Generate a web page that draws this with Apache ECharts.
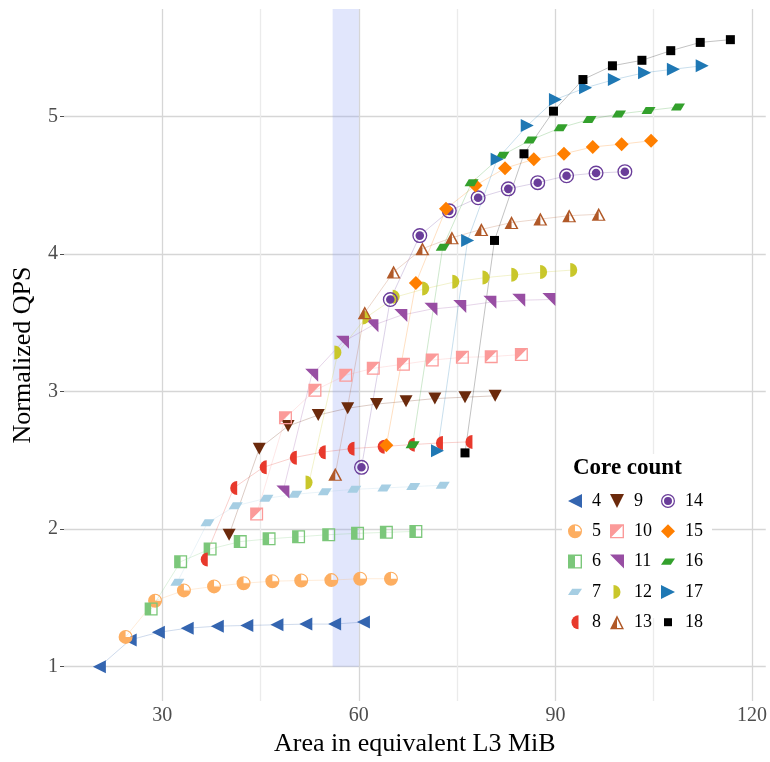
<!DOCTYPE html>
<html>
<head>
<meta charset="utf-8">
<script src="https://cdn.jsdelivr.net/npm/echarts@6/dist/echarts.min.js"></script>
<style>
  html, body { margin: 0; padding: 0; background: #fff; }
  #chart { width: 770px; height: 762px; }
</style>
</head>
<body>
<div id="chart"></div>
<script>
// core counts (legend entries)
const cores = ["4", "5", "6", "7", "8", "9", "10", "11", "12", "13", "14", "15", "16", "17", "18"];

// area (equivalent L3 MiB) and normalized QPS per core count
const area4 = [20.4, 25.1, 29.4, 33.8, 38.4, 42.9, 47.5, 51.9, 56.3, 60.7];
const qps4 = [1.0, 1.195, 1.25, 1.28, 1.295, 1.3, 1.305, 1.31, 1.31, 1.325];
const area5 = [24.4, 28.9, 33.3, 37.9, 42.4, 46.8, 51.2, 55.8, 60.2, 64.9];
const qps5 = [1.217, 1.48, 1.555, 1.584, 1.607, 1.622, 1.627, 1.63, 1.64, 1.64];
const area6 = [28.3, 32.8, 37.3, 41.9, 46.3, 50.8, 55.4, 59.8, 64.2, 68.7];
const qps6 = [1.42, 1.764, 1.856, 1.91, 1.93, 1.945, 1.96, 1.97, 1.977, 1.984];
const area7 = [32.3, 36.9, 41.2, 45.9, 50.3, 54.8, 59.3, 63.9, 68.3, 72.8];
const qps7 = [1.615, 2.047, 2.17, 2.225, 2.254, 2.273, 2.29, 2.3, 2.31, 2.32];
const area8 = [36.4, 40.9, 45.4, 50.0, 54.4, 58.8, 63.4, 68.0, 72.3, 76.8];
const qps8 = [1.78, 2.3, 2.45, 2.52, 2.56, 2.586, 2.6, 2.615, 2.627, 2.635];
const area9 = [40.2, 44.8, 49.2, 53.8, 58.3, 62.7, 67.2, 71.6, 76.2, 80.8];
const qps9 = [1.96, 2.586, 2.75, 2.83, 2.88, 2.91, 2.93, 2.95, 2.96, 2.97];
const area10 = [44.4, 48.8, 53.3, 58.0, 62.2, 66.8, 71.2, 75.8, 80.2, 84.8];
const qps10 = [2.11, 2.81, 3.01, 3.12, 3.17, 3.2, 3.23, 3.25, 3.255, 3.27];
const area11 = [48.4, 52.8, 57.5, 62.0, 66.4, 71.0, 75.4, 80.0, 84.4, 89.0];
const qps11 = [2.27, 3.12, 3.36, 3.48, 3.555, 3.6, 3.62, 3.65, 3.665, 3.67];
const area12 = [52.4, 56.8, 61.1, 65.7, 70.2, 74.8, 79.4, 83.8, 88.2, 92.8];
const qps12 = [2.34, 3.285, 3.54, 3.69, 3.75, 3.8, 3.83, 3.85, 3.87, 3.885];
const area13 = [56.4, 60.9, 65.3, 69.7, 74.2, 78.7, 83.3, 87.7, 92.1, 96.6];
const qps13 = [2.4, 3.575, 3.87, 4.04, 4.12, 4.18, 4.23, 4.255, 4.28, 4.29];
const area14 = [60.4, 64.8, 69.3, 73.8, 78.2, 82.8, 87.3, 91.7, 96.2, 100.6];
const qps14 = [2.45, 3.67, 4.135, 4.315, 4.41, 4.475, 4.52, 4.57, 4.59, 4.6];
const area15 = [64.2, 68.7, 73.3, 77.8, 82.3, 86.7, 91.3, 95.7, 100.1, 104.6];
const qps15 = [2.61, 3.79, 4.33, 4.5, 4.625, 4.69, 4.73, 4.78, 4.8, 4.825];
const area16 = [68.2, 72.8, 77.2, 81.9, 86.2, 90.8, 95.2, 99.7, 104.2, 108.7];
const qps16 = [2.615, 4.05, 4.52, 4.72, 4.83, 4.92, 4.98, 5.02, 5.045, 5.07];
const area17 = [72.0, 76.6, 81.1, 85.7, 90.0, 94.6, 99.0, 103.6, 108.0, 112.4];
const qps17 = [2.57, 4.1, 4.69, 4.935, 5.125, 5.21, 5.27, 5.32, 5.345, 5.37];
const area18 = [76.2, 80.7, 85.2, 89.7, 94.2, 98.7, 103.2, 107.6, 112.1, 116.7];
const qps18 = [2.555, 4.1, 4.73, 5.04, 5.27, 5.37, 5.41, 5.48, 5.54, 5.56];

const areas = [area4, area5, area6, area7, area8, area9, area10, area11, area12, area13, area14, area15, area16, area17, area18];
const qpss = [qps4, qps5, qps6, qps7, qps8, qps9, qps10, qps11, qps12, qps13, qps14, qps15, qps16, qps17, qps18];

// y tick labels
const yTicks = [1, 2, 3, 4, 5];

// highlighted band on the x axis
const bandStart = 56;
const bandEnd = 60;

const colors = [
  "#3465b0", "#fdae61", "#7bc77a", "#a6cee3", "#e8392c",
  "#6b2a0c", "#fb9a99", "#984ea3", "#c9c72b", "#b15928",
  "#6a3d9a", "#ff7f00", "#33a02c", "#1f78b4", "#000000",
];

const ring = "M10,0A10,10 0 1,1 10,20A10,10 0 1,1 10,0Z";
const sqFrame = "M0,0H20V20H0Z M2,2V18H18V2Z";
const symbols = [
  "path://M0,10L20,0L20,20Z",
  "path://" + ring + " M10,1.6A8.4,8.4 0 1,0 10,18.4A8.4,8.4 0 1,0 10,1.6Z M10,10L10,1.6A8.4,8.4 0 1,0 18.4,10Z",
  "path://" + sqFrame + " M2,2H10V18H2Z",
  "path://M6,0H20L14,9H0Z",
  "path://M10,0A10,10 0 0,0 10,20Z",
  "path://M0,0H20L10,20Z",
  "path://" + sqFrame + " M2,2H18L2,18Z",
  "path://M0,0H20V20Z",
  "path://M10,0A10,10 0 0,1 10,20Z",
  "path://M10,0L20,20H0Z M10,4.6L3.3,18.4H16.7Z M10,4.6V18.4H3.3Z",
  "path://" + ring + " M10,1.8A8.2,8.2 0 1,0 10,18.2A8.2,8.2 0 1,0 10,1.8Z M10,4.3A5.7,5.7 0 1,1 10,15.7A5.7,5.7 0 1,1 10,4.3Z",
  "diamond",
  "path://M6,0H20L14,9H0Z",
  "path://M0,0L20,10L0,20Z",
  "rect",
];
const sizes = [
  [13, 13], 14, 13, [14, 7], [7, 14],
  [13, 12], 13, [13, 13], [7, 14], [14, 13],
  15, 14, [14, 7], [13, 13], 9,
];
const legendIcons = symbols.slice();
legendIcons[14] = "path://M0,0L0,0M14,14L14,14M3,3H11V11H3Z";

const font = "Liberation Serif";

const chart = echarts.init(document.getElementById("chart"));

const pairs = (i) => areas[i].map((a, k) => [a, qpss[i][k]]);

const lineSeries = cores.map((c, i) => ({
  type: "line",
  name: "line" + c,
  data: pairs(i),
  symbol: "none",
  silent: true,
  z: 1,
  lineStyle: { color: colors[i], width: 1, opacity: 0.24 },
}));
lineSeries[0].markArea = {
  silent: true,
  itemStyle: { color: "rgba(135,155,243,0.25)" },
  data: [[{ xAxis: bandStart, yAxis: 1 }, { xAxis: bandEnd, yAxis: 5.783 }]],
};

const pointSeries = cores.map((c, i) => ({
  type: "scatter",
  name: c,
  data: pairs(i),
  symbol: symbols[i],
  symbolSize: sizes[i],
  z: 2,
  itemStyle: { color: colors[i], opacity: 1 },
}));

const legendCols = [568, 610, 661];
const legends = legendCols.map((left, col) => ({
  orient: "vertical",
  left: left,
  top: 492,
  padding: 0,
  itemWidth: 14,
  itemHeight: 14,
  itemGap: 12.3,
  selectedMode: false,
  z: 4,
  textStyle: { fontFamily: font, fontSize: 18, color: "#000", padding: [0, 0, 0, 5] },
  data: cores.slice(col * 5, col * 5 + 5).map((c, k) => ({
    name: c,
    icon: legendIcons[col * 5 + k],
    itemStyle: { color: colors[col * 5 + k], opacity: 1 },
  })),
}));

const option = {
  animation: false,
  backgroundColor: "#fff",
  grid: { left: 64, right: 4, top: 9, bottom: 58 },
  xAxis: {
    type: "value",
    min: 15,
    max: 122.1,
    interval: 15,
    name: "Area in equivalent L3 MiB",
    nameLocation: "middle",
    nameGap: 28,
    nameTextStyle: { fontFamily: font, fontSize: 26, color: "#000" },
    axisLine: { show: false },
    axisTick: { show: false },
    axisLabel: {
      margin: 5,
      fontFamily: font,
      fontSize: 20,
      color: "#4d4d4d",
      showMaxLabel: false,
      formatter: (v) => (v % 30 === 0 ? String(v) : ""),
    },
    splitLine: {
      show: true,
      showMaxLine: false,
      lineStyle: {
        width: 1.3,
        color: ["rgba(0,0,0,0)", "#d6d6d6", "#ebebeb", "#d6d6d6", "#ebebeb", "#d6d6d6", "#ebebeb", "#d6d6d6"],
      },
    },
  },
  yAxis: {
    type: "value",
    min: 0.75,
    max: 5.783,
    interval: 0.25,
    name: "Normalized QPS",
    nameLocation: "middle",
    nameGap: 28,
    nameTextStyle: { fontFamily: font, fontSize: 26, color: "#000" },
    axisLine: { show: false },
    axisTick: {
      show: true,
      length: 4,
      customValues: yTicks,
      lineStyle: { color: "#4d4d4d", width: 1 },
    },
    axisLabel: {
      margin: 6,
      customValues: yTicks,
      fontFamily: font,
      fontSize: 20,
      color: "#4d4d4d",
    },
    splitLine: {
      show: true,
      lineStyle: { width: 1.3, color: "#d6d6d6" },
    },
  },
  legend: legends,
  graphic: [
    { type: "rect", left: 562, top: 454, shape: { width: 150, height: 164 }, style: { fill: "#fff" }, z: 3 },
    { type: "text", left: 573, top: 457, style: { text: "Core count", font: 'bold 23px "Liberation Serif"', fill: "#000" }, z: 5 },
  ],
  series: [...lineSeries, ...pointSeries],
};

chart.setOption(option);
</script>
</body>
</html>
